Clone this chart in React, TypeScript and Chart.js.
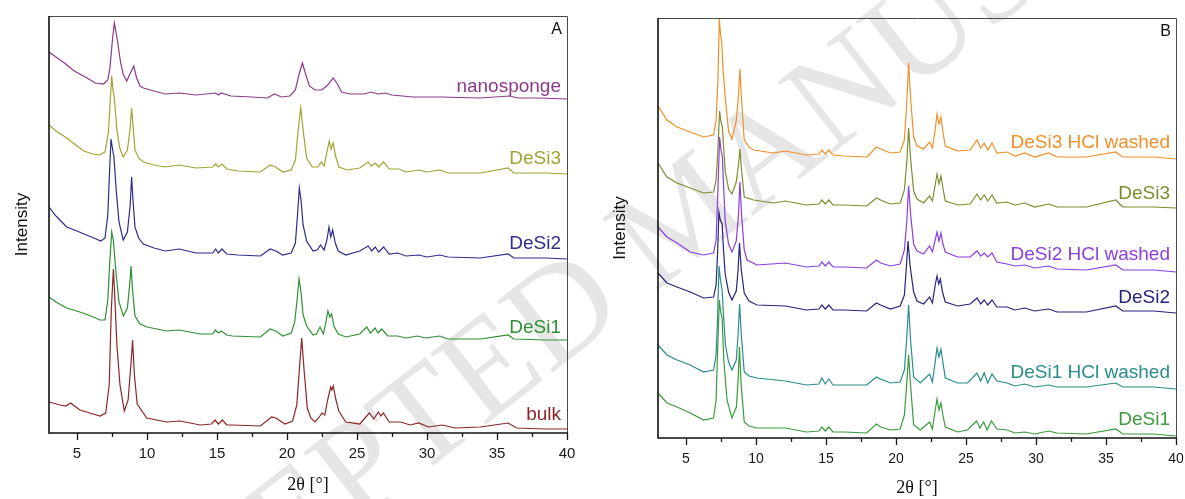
import React, { useEffect, useRef } from "react";
import { Chart, registerables } from "chart.js";

Chart.register(...registerables);

type Pt = [number, number];

// ---------- Panel A : 2θ (°), intensity (a.u., stacked as plotted) ----------
const nanospongeA: Pt[] = [
  [3.0, 381], [3.4, 377], [4.1, 370], [4.8, 362], [5.6, 356], [6.3, 350], [6.9, 349], [7.2, 353],
  [7.36, 366], [7.55, 396], [7.67, 410], [7.88, 393], [8.12, 370], [8.3, 359], [8.55, 352], [8.85, 361],
  [9.05, 367], [9.26, 355], [9.5, 347], [9.75, 345], [10.5, 342], [11.3, 339], [12.3, 340], [13.5, 338],
  [14.9, 340], [15.1, 338], [15.3, 340], [16.0, 337], [17.5, 336], [18.6, 335], [19.1, 339], [19.6, 336],
  [20.2, 337], [20.6, 343], [20.85, 358], [21.1, 370], [21.35, 358], [21.6, 347], [22.0, 343], [22.5, 343],
  [22.9, 348], [23.3, 355], [23.6, 349], [23.9, 341], [24.5, 339], [25.5, 339], [26.0, 341], [26.5, 339],
  [27.0, 340], [27.5, 338], [29.0, 336], [31.0, 336], [33.8, 335], [35.9, 337], [36.5, 335], [38.0, 335],
  [40.0, 334],
];
const desi3A: Pt[] = [
  [3.0, 308], [3.5, 302], [4.26, 295], [5.0, 287], [5.5, 282], [6.1, 279], [6.6, 278], [7.0, 281],
  [7.25, 301], [7.38, 333], [7.48, 357], [7.57, 343], [7.65, 337], [7.85, 303], [8.05, 285], [8.3, 276],
  [8.6, 283], [8.8, 305], [8.9, 325], [9.0, 308], [9.14, 283], [9.4, 275], [9.74, 271], [10.5, 268],
  [11.3, 266], [12.3, 268], [13.5, 265], [14.7, 266], [14.9, 269], [15.1, 266], [15.35, 269], [15.7, 264],
  [16.5, 262], [18.1, 261], [18.8, 268], [19.2, 266], [19.7, 261], [20.3, 263], [20.6, 273], [20.8, 303],
  [20.98, 325], [21.15, 303], [21.4, 275], [21.8, 266], [22.2, 266], [22.45, 271], [22.65, 267], [22.85, 281],
  [23.02, 292], [23.15, 284], [23.3, 290], [23.45, 278], [23.7, 266], [24.3, 263], [25.2, 265], [25.8, 271],
  [26.0, 267], [26.3, 270], [26.55, 266], [26.9, 271], [27.3, 264], [28.0, 264], [28.5, 261], [29.4, 263],
  [30.0, 261], [30.9, 263], [31.5, 260], [33.8, 260], [35.8, 265], [36.2, 260], [38.5, 260], [40.0, 259],
];
const desi2A: Pt[] = [
  [3.0, 226], [3.5, 217], [4.26, 206], [5.0, 202], [5.5, 199], [6.2, 195], [6.7, 192], [7.0, 195],
  [7.2, 218], [7.33, 263], [7.43, 294], [7.55, 283], [7.64, 276], [7.8, 243], [8.0, 211], [8.3, 193],
  [8.6, 201], [8.8, 228], [8.9, 256], [9.0, 233], [9.14, 206], [9.4, 195], [9.74, 189], [10.5, 185],
  [11.3, 182], [12.3, 184], [13.5, 180], [14.7, 180], [14.9, 184], [15.1, 180], [15.35, 184], [15.7, 179],
  [16.5, 178], [18.1, 177], [18.8, 184], [19.2, 182], [19.7, 178], [20.3, 180], [20.6, 190], [20.75, 218],
  [20.88, 245], [21.0, 233], [21.15, 208], [21.4, 192], [21.86, 182], [22.15, 183], [22.4, 188], [22.65, 183],
  [22.85, 193], [23.0, 206], [23.13, 196], [23.26, 203], [23.45, 190], [23.66, 182], [24.2, 178], [25.2, 182],
  [25.8, 187], [26.05, 182], [26.3, 186], [26.55, 181], [26.9, 186], [27.3, 179], [27.9, 180], [28.5, 177],
  [29.4, 178], [30.0, 176], [30.9, 178], [31.5, 176], [33.8, 175], [35.8, 179], [36.2, 175], [38.5, 175],
  [40.0, 174],
];
const desi1A: Pt[] = [
  [3.0, 136], [3.5, 131], [4.26, 125], [5.2, 121], [6.0, 117], [6.64, 113], [7.0, 113], [7.2, 133],
  [7.35, 173], [7.48, 201], [7.6, 192], [7.8, 158], [8.0, 131], [8.31, 117], [8.6, 125], [8.76, 148],
  [8.86, 167], [8.97, 143], [9.14, 117], [9.5, 109], [10.0, 106], [11.4, 102], [12.3, 103], [13.8, 99],
  [14.7, 99], [14.88, 103], [15.1, 100], [15.3, 102], [15.7, 98], [16.1, 97], [18.1, 96], [18.8, 104],
  [19.2, 102], [19.7, 97], [20.3, 100], [20.55, 111], [20.72, 133], [20.86, 154], [21.0, 141], [21.15, 118],
  [21.4, 107], [21.86, 98], [22.1, 99], [22.36, 106], [22.6, 99], [22.78, 111], [22.92, 122], [23.06, 116],
  [23.19, 119], [23.35, 107], [23.66, 99], [24.2, 96], [25.2, 99], [25.7, 106], [25.95, 100], [26.3, 105],
  [26.5, 100], [26.76, 104], [27.2, 97], [27.9, 97], [28.5, 95], [29.3, 97], [29.9, 95], [30.9, 97],
  [31.5, 94], [33.8, 94], [35.8, 98], [36.2, 94], [38.5, 93], [40.0, 93],
];
const bulkA: Pt[] = [
  [3.0, 31], [3.8, 28], [4.2, 27], [4.55, 30], [5.2, 23], [5.93, 20], [6.64, 17], [7.05, 20],
  [7.3, 48], [7.45, 123], [7.6, 164], [7.71, 133], [7.85, 88], [8.07, 48], [8.38, 22], [8.65, 33],
  [8.85, 68], [8.97, 93], [9.1, 58], [9.3, 29], [9.98, 15], [11.4, 11], [12.36, 12], [13.8, 8],
  [14.6, 9], [14.86, 13], [15.1, 9], [15.38, 13], [15.7, 8], [16.1, 8], [18.1, 7], [18.9, 16],
  [19.2, 15], [19.86, 9], [20.4, 12], [20.7, 28], [20.88, 63], [21.05, 95], [21.22, 63], [21.45, 25],
  [21.7, 15], [22.0, 11], [22.25, 15], [22.5, 20], [22.7, 18], [22.9, 33], [23.12, 46], [23.2, 43],
  [23.3, 47], [23.5, 33], [23.7, 22], [24.2, 11], [25.2, 9], [25.88, 20], [26.2, 14], [26.52, 21],
  [26.7, 17], [26.88, 20], [27.3, 11], [28.12, 11], [28.8, 8], [29.4, 10], [30.1, 6], [31.1, 8],
  [32.0, 5], [33.8, 6], [35.8, 10], [36.4, 5], [38.5, 4], [40.0, 4],
];

// ---------- Panel B ----------
const desi3HclB: Pt[] = [
  [3.0, 332], [3.64, 318], [4.36, 311], [5.3, 306], [6.26, 301], [6.97, 303], [7.15, 318], [7.28, 358],
  [7.38, 419], [7.47, 403], [7.55, 397], [7.65, 368], [7.8, 341], [8.04, 307], [8.28, 299], [8.59, 317],
  [8.75, 343], [8.85, 369], [8.97, 338], [9.16, 298], [9.5, 291], [9.83, 288], [11.26, 285], [12.1, 287],
  [13.6, 283], [14.5, 284], [14.7, 288], [14.95, 284], [15.2, 288], [15.5, 283], [16.26, 282], [17.93, 281],
  [18.6, 291], [18.9, 289], [19.6, 285], [20.3, 286], [20.6, 298], [20.78, 338], [20.9, 375], [21.05, 338],
  [21.26, 301], [21.5, 292], [21.97, 289], [22.4, 296], [22.6, 290], [22.8, 308], [22.93, 324], [23.07, 314],
  [23.21, 321], [23.35, 306], [23.52, 292], [24.4, 287], [25.3, 288], [25.79, 298], [26.05, 290], [26.3, 295],
  [26.55, 288], [26.86, 295], [27.2, 285], [27.93, 286], [28.5, 282], [29.2, 285], [29.9, 281], [30.9, 285],
  [31.5, 281], [33.6, 281], [35.7, 286], [36.2, 281], [38.4, 281], [40.0, 279],
];
const desi3B: Pt[] = [
  [3.0, 275], [3.64, 261], [4.36, 255], [5.3, 250], [6.26, 245], [6.97, 246], [7.15, 258], [7.28, 288],
  [7.4, 327], [7.5, 316], [7.6, 311], [7.7, 288], [7.8, 267], [8.04, 249], [8.28, 244], [8.59, 256],
  [8.75, 273], [8.85, 289], [8.97, 268], [9.16, 241], [9.83, 238], [11.26, 235], [12.1, 237], [13.6, 233],
  [14.5, 234], [14.7, 238], [14.95, 234], [15.2, 238], [15.5, 233], [16.26, 233], [17.9, 232], [18.6, 240],
  [18.9, 238], [19.6, 234], [20.3, 235], [20.6, 248], [20.78, 278], [20.9, 310], [21.05, 278], [21.26, 247],
  [21.5, 239], [21.97, 235], [22.4, 242], [22.6, 237], [22.8, 253], [22.93, 264], [23.07, 254], [23.21, 262],
  [23.35, 250], [23.52, 237], [24.4, 233], [25.3, 234], [25.79, 244], [26.05, 238], [26.3, 243], [26.55, 237],
  [26.86, 243], [27.2, 235], [27.93, 236], [28.5, 233], [29.2, 235], [29.9, 231], [30.9, 234], [31.5, 231],
  [33.6, 231], [35.7, 238], [36.2, 231], [38.4, 231], [40.0, 230],
];
const desi2HclB: Pt[] = [
  [3.0, 211], [3.64, 201], [4.36, 195], [5.3, 186], [6.26, 183], [6.97, 185], [7.15, 198], [7.28, 248],
  [7.4, 301], [7.5, 288], [7.6, 281], [7.7, 248], [7.8, 217], [8.04, 194], [8.28, 186], [8.59, 197],
  [8.75, 223], [8.85, 256], [8.97, 223], [9.16, 188], [9.36, 178], [10.07, 173], [12.1, 175], [13.6, 171],
  [14.5, 172], [14.7, 176], [14.95, 172], [15.2, 176], [15.5, 171], [16.3, 171], [17.9, 170], [18.6, 178],
  [18.9, 175], [19.6, 172], [20.3, 174], [20.6, 188], [20.78, 218], [20.9, 252], [21.05, 223], [21.26, 194],
  [21.5, 187], [21.97, 184], [22.4, 192], [22.6, 186], [22.8, 198], [22.93, 206], [23.07, 197], [23.21, 205],
  [23.35, 194], [23.52, 186], [24.4, 181], [25.3, 181], [25.79, 187], [26.05, 182], [26.3, 185], [26.55, 181],
  [26.86, 185], [27.2, 176], [27.93, 174], [28.5, 172], [29.2, 173], [29.9, 170], [30.9, 172], [31.5, 169],
  [33.6, 168], [35.7, 173], [36.2, 168], [38.4, 168], [40.0, 166],
];
const desi2B: Pt[] = [
  [3.0, 165], [3.64, 155], [4.36, 151], [5.3, 146], [6.26, 140], [6.97, 141], [7.15, 153], [7.25, 183],
  [7.35, 226], [7.45, 218], [7.58, 214], [7.68, 188], [7.8, 164], [8.04, 146], [8.28, 138], [8.59, 147],
  [8.72, 168], [8.82, 195], [8.95, 168], [9.16, 145], [9.5, 137], [10.07, 133], [12.1, 132], [13.6, 128],
  [14.5, 129], [14.7, 133], [14.95, 129], [15.2, 133], [15.5, 128], [16.3, 128], [17.9, 127], [18.6, 135],
  [18.9, 133], [19.6, 129], [20.3, 132], [20.6, 143], [20.75, 173], [20.86, 197], [21.0, 173], [21.26, 146],
  [21.5, 137], [21.97, 134], [22.4, 141], [22.6, 135], [22.8, 153], [22.93, 162], [23.05, 154], [23.17, 159],
  [23.32, 146], [23.52, 136], [24.4, 132], [25.3, 134], [25.79, 140], [26.05, 134], [26.3, 138], [26.55, 133],
  [26.86, 138], [27.2, 131], [27.93, 131], [28.5, 128], [29.2, 130], [29.9, 127], [30.9, 129], [31.5, 126],
  [33.6, 126], [35.7, 132], [36.2, 127], [38.4, 127], [40.0, 125],
];
const desi1HclB: Pt[] = [
  [3.0, 93], [3.64, 83], [4.36, 78], [5.3, 73], [6.26, 66], [6.97, 68], [7.15, 83], [7.25, 118],
  [7.36, 172], [7.46, 158], [7.58, 148], [7.7, 118], [7.82, 93], [8.04, 76], [8.28, 68], [8.59, 78],
  [8.72, 103], [8.83, 134], [8.95, 103], [9.16, 66], [9.5, 62], [10.07, 60], [12.1, 57], [13.6, 53],
  [14.5, 54], [14.7, 60], [14.95, 54], [15.2, 59], [15.5, 53], [16.3, 53], [17.9, 53], [18.6, 61],
  [18.9, 59], [19.6, 55], [20.3, 56], [20.6, 68], [20.76, 98], [20.9, 133], [21.04, 98], [21.26, 61],
  [21.73, 55], [22.4, 64], [22.6, 56], [22.8, 76], [22.93, 90], [23.07, 81], [23.21, 89], [23.35, 76],
  [23.52, 60], [24.4, 55], [25.1, 55], [25.79, 65], [26.05, 57], [26.3, 65], [26.55, 55], [26.86, 64],
  [27.2, 57], [27.93, 55], [28.5, 52], [29.2, 54], [29.9, 51], [30.9, 53], [31.5, 51], [33.6, 51],
  [35.7, 55], [36.2, 51], [38.4, 51], [40.0, 49],
];
const desi1B: Pt[] = [
  [3.0, 45], [3.64, 35], [4.36, 31], [5.3, 25], [6.26, 18], [6.97, 20], [7.15, 38], [7.26, 88],
  [7.38, 138], [7.48, 126], [7.58, 120], [7.7, 78], [7.93, 38], [8.28, 20], [8.6, 31], [8.72, 58],
  [8.82, 91], [8.94, 53], [9.16, 16], [9.5, 12], [10.07, 10], [12.1, 10], [13.6, 6], [14.5, 7],
  [14.7, 11], [14.95, 7], [15.2, 11], [15.5, 6], [16.3, 6], [17.9, 5], [18.6, 14], [18.9, 11],
  [19.6, 8], [20.3, 9], [20.6, 23], [20.76, 53], [20.9, 83], [21.04, 53], [21.26, 13], [21.73, 8],
  [22.4, 16], [22.6, 9], [22.8, 28], [22.93, 39], [23.07, 28], [23.21, 35], [23.35, 23], [23.52, 11],
  [24.4, 6], [25.1, 8], [25.75, 17], [26.0, 10], [26.26, 16], [26.5, 8], [26.81, 17], [27.2, 9],
  [27.93, 8], [28.5, 5], [29.2, 6], [29.9, 4], [30.9, 7], [31.5, 5], [33.6, 4], [35.7, 9],
  [36.2, 4], [38.4, 4], [40.0, 2],
];

const namesA = ["nanosponge", "DeSi3", "DeSi2", "DeSi1", "bulk"];
const namesB = ["DeSi3 HCl washed", "DeSi3", "DeSi2 HCl washed", "DeSi2", "DeSi1 HCl washed", "DeSi1"];
const X_MIN = 3;
const X_MAX = 40;
const X_STEP = 5;
const Y_MAX_A = 417;
const Y_MAX_B = 420;
const WATERMARK = "ACCEPTED MANUSCRIPT";

// ---------- styles / positions (not data) ----------
const SANS = '"Liberation Sans", Arial, Helvetica, sans-serif';
const SERIF = '"Liberation Serif", "Times New Roman", Times, serif';

const colorsA = ["#8d3a8d", "#a3a234", "#2d2d8c", "#2f8f33", "#8c2626"];
const colorsB = ["#f0902a", "#7f8c2f", "#8b3fdc", "#25257c", "#2b8c8c", "#3b9b3b"];
const labelLevelA = [341, 269, 184, 100, 13];
const labelLevelB = [290, 239, 178, 135, 60, 13];

type PanelCfg = {
  letter: string;
  names: string[];
  series: Pt[][];
  colors: string[];
  labelLevels: number[];
  yMax: number;
  left: number;
  width: number;
  padLeft: number;
  padTop: number;
  padRight: number;
  xAxisHeight: number;
  tickFont: number;
  tickPad: number;
  yTitleX: number;
  xTitleBaseline: number;
};

const panelA: PanelCfg = {
  letter: "A", names: namesA, series: [nanospongeA, desi3A, desi2A, desi1A, bulkA], colors: colorsA,
  labelLevels: labelLevelA, yMax: Y_MAX_A, left: 0, width: 590, padLeft: 49, padTop: 16, padRight: 23,
  xAxisHeight: 66, tickFont: 15, tickPad: 12, yTitleX: 22, xTitleBaseline: 490,
};
const panelB: PanelCfg = {
  letter: "B", names: namesB, series: [desi3HclB, desi3B, desi2HclB, desi2B, desi1HclB, desi1B], colors: colorsB,
  labelLevels: labelLevelB, yMax: Y_MAX_B, left: 590, width: 595, padLeft: 68, padTop: 18, padRight: 9,
  xAxisHeight: 61, tickFont: 14, tickPad: 13, yTitleX: 30, xTitleBaseline: 493,
};

function decorPlugin(cfg: PanelCfg) {
  return {
    id: "decor" + cfg.letter,
    afterDraw(chart: any) {
      const { ctx, chartArea: a, scales } = chart;
      const xs = scales.x;
      const ys = scales.y;
      ctx.save();
      // tick marks (major from the scale's ticks, minor half-way)
      const major: number[] = xs.ticks.map((t: any) => t.value);
      ctx.strokeStyle = "#1a1a1a";
      ctx.lineWidth = 1.3;
      const drawTick = (v: number, len: number) => {
        const px = Math.round(xs.getPixelForValue(v)) + 0.5;
        ctx.beginPath();
        ctx.moveTo(px, a.bottom);
        ctx.lineTo(px, a.bottom + len);
        ctx.stroke();
      };
      major.forEach((v) => drawTick(v, 7));
      for (let i = 0; i < major.length - 1; i++) drawTick((major[i] + major[i + 1]) / 2, 4);
      // frame
      ctx.lineWidth = 1;
      ctx.strokeStyle = "#4a4a4a";
      ctx.beginPath();
      ctx.moveTo(a.left, a.top + 0.5);
      ctx.lineTo(a.right + 0.5, a.top + 0.5);
      ctx.lineTo(a.right + 0.5, a.bottom);
      ctx.stroke();
      ctx.lineWidth = 1.6;
      ctx.strokeStyle = "#111";
      ctx.beginPath();
      ctx.moveTo(a.left, a.top);
      ctx.lineTo(a.left, a.bottom);
      ctx.lineTo(a.right + 1, a.bottom);
      ctx.stroke();
      // series labels
      ctx.font = `19px ${SANS}`;
      ctx.textAlign = "right";
      ctx.textBaseline = "alphabetic";
      cfg.names.forEach((n, i) => {
        ctx.fillStyle = cfg.colors[i];
        ctx.fillText(n, a.right - 6, ys.getPixelForValue(cfg.labelLevels[i]));
      });
      // panel letter
      ctx.fillStyle = "#111";
      ctx.font = `16px ${SANS}`;
      ctx.fillText(cfg.letter, a.right - 5, a.top + 18);
      // y title
      ctx.save();
      ctx.translate(cfg.yTitleX, (a.top + a.bottom) / 2);
      ctx.rotate(-Math.PI / 2);
      ctx.textAlign = "center";
      ctx.textBaseline = "middle";
      ctx.font = `17px ${SANS}`;
      ctx.fillText("Intensity", 0, 0);
      ctx.restore();
      // x title
      ctx.textAlign = "center";
      ctx.textBaseline = "alphabetic";
      ctx.font = `18px ${SERIF}`;
      ctx.fillText("2θ [°]", (a.left + a.right) / 2, cfg.xTitleBaseline);
      ctx.restore();
    },
  };
}

function Panel({ cfg }: { cfg: PanelCfg }) {
  const ref = useRef<HTMLCanvasElement>(null);
  useEffect(() => {
    const chart = new Chart(ref.current as HTMLCanvasElement, {
      type: "line",
      data: {
        datasets: cfg.series.map((s, i) => ({
          label: cfg.names[i],
          data: s.map(([x, y]) => ({ x, y })),
          borderColor: cfg.colors[i],
          backgroundColor: cfg.colors[i],
          borderWidth: 1.2,
          pointRadius: 0,
          tension: 0,
          fill: false,
        })),
      },
      options: {
        animation: false,
        responsive: false,
        maintainAspectRatio: false,
        events: [],
        layout: { padding: { left: cfg.padLeft, top: cfg.padTop, right: cfg.padRight, bottom: 0 } },
        plugins: { legend: { display: false }, tooltip: { enabled: false } },
        scales: {
          x: {
            type: "linear",
            min: X_MIN,
            max: X_MAX,
            grid: { display: false, drawTicks: false, tickLength: 0 },
            border: { display: false },
            ticks: {
              stepSize: X_STEP,
              includeBounds: false,
              autoSkip: false,
              maxRotation: 0,
              padding: cfg.tickPad,
              color: "#1a1a1a",
              font: { family: SANS, size: cfg.tickFont },
            },
            afterFit: (s: any) => {
              s.height = cfg.xAxisHeight;
              s.paddingLeft = 0;
              s.paddingRight = 0;
            },
          },
          y: { display: false, min: 0, max: cfg.yMax },
        },
      } as any,
      plugins: [decorPlugin(cfg)],
    });
    return () => chart.destroy();
  }, [cfg]);
  return (
    <canvas
      ref={ref}
      width={cfg.width}
      height={499}
      style={{ position: "absolute", left: cfg.left, top: 0, width: cfg.width, height: 499 }}
    />
  );
}

export default function App() {
  return (
    <div style={{ position: "fixed", left: 0, top: 0, width: 1185, height: 499, background: "#fff", overflow: "hidden" }}>
      <div
        style={{
          position: "absolute",
          left: -5,
          top: 662,
          fontFamily: SERIF,
          fontSize: 138,
          lineHeight: 1,
          whiteSpace: "nowrap",
          color: "#e6e6e6",
          transform: "rotate(-38deg)",
          transformOrigin: "0 0",
          userSelect: "none",
        }}
      >
        {WATERMARK}
      </div>
      <Panel cfg={panelA} />
      <Panel cfg={panelB} />
    </div>
  );
}
